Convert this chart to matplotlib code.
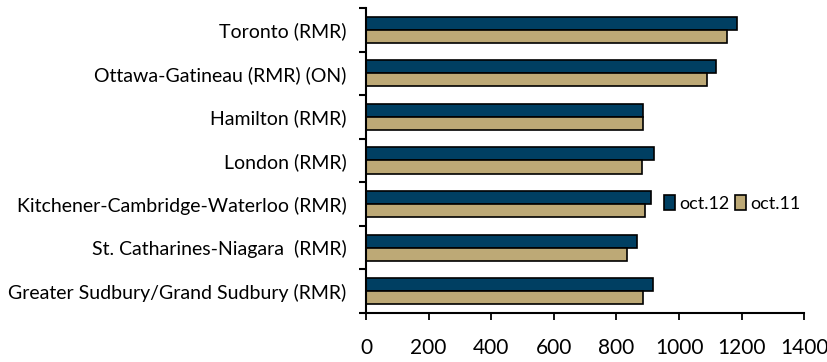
import numpy as np
import matplotlib.pyplot as plt
from matplotlib.ticker import FixedLocator

# data
regions = ['Toronto (RMR)', 'Ottawa-Gatineau (RMR) (ON)', 'Hamilton (RMR)',
           'London (RMR)', 'Kitchener-Cambridge-Waterloo (RMR)',
           'St. Catharines-Niagara  (RMR)', 'Greater Sudbury/Grand Sudbury (RMR)']
oct12 = [1184, 1118, 886, 920, 909, 865, 916]
oct11 = [1152, 1088, 885, 883, 890, 833, 884]
xticks = [0, 200, 400, 600, 800, 1000, 1200, 1400]

plt.rcParams['font.family'] = ['Lato', 'DejaVu Sans']

fig = plt.figure(figsize=(8.28, 3.62), dpi=100)
ax = fig.add_axes([0.442, 0.1354, 0.9714 - 0.442, 0.978 - 0.1354])

y = np.arange(len(regions))
h = 0.3
ax.barh(y - h / 2, oct12, height=h, color='#003F62', edgecolor='black',
        linewidth=1.2, label='oct.12')
ax.barh(y + h / 2, oct11, height=h, color='#BDA976', edgecolor='black',
        linewidth=1.2, label='oct.11')

ax.set_ylim(len(regions) - 0.5, -0.5)
ax.set_xlim(0, 1400)
ax.set_yticks(y)
ax.set_yticklabels(regions, fontsize=14)
ax.yaxis.set_minor_locator(FixedLocator(np.arange(-0.5, len(regions), 1)))
ax.tick_params(axis='y', which='major', length=0, pad=14)
ax.tick_params(axis='y', which='minor', length=5, width=1.5, direction='out')

ax.set_xticks(xticks)
ax.set_xticklabels([str(v) for v in xticks], fontsize=15)
ax.tick_params(axis='x', length=5, width=1.3, direction='out', pad=13)

for s in ['top', 'right']:
    ax.spines[s].set_visible(False)
ax.spines['left'].set_linewidth(1.5)
ax.spines['bottom'].set_linewidth(1.5)

ax.legend(loc='center', bbox_to_anchor=(0.835, 0.36), ncol=2, frameon=False,
          fontsize=13, handlelength=0.65, handleheight=0.9,
          handletextpad=0.2, columnspacing=0.3, borderpad=0.2)

plt.savefig('out.png', dpi=100)
